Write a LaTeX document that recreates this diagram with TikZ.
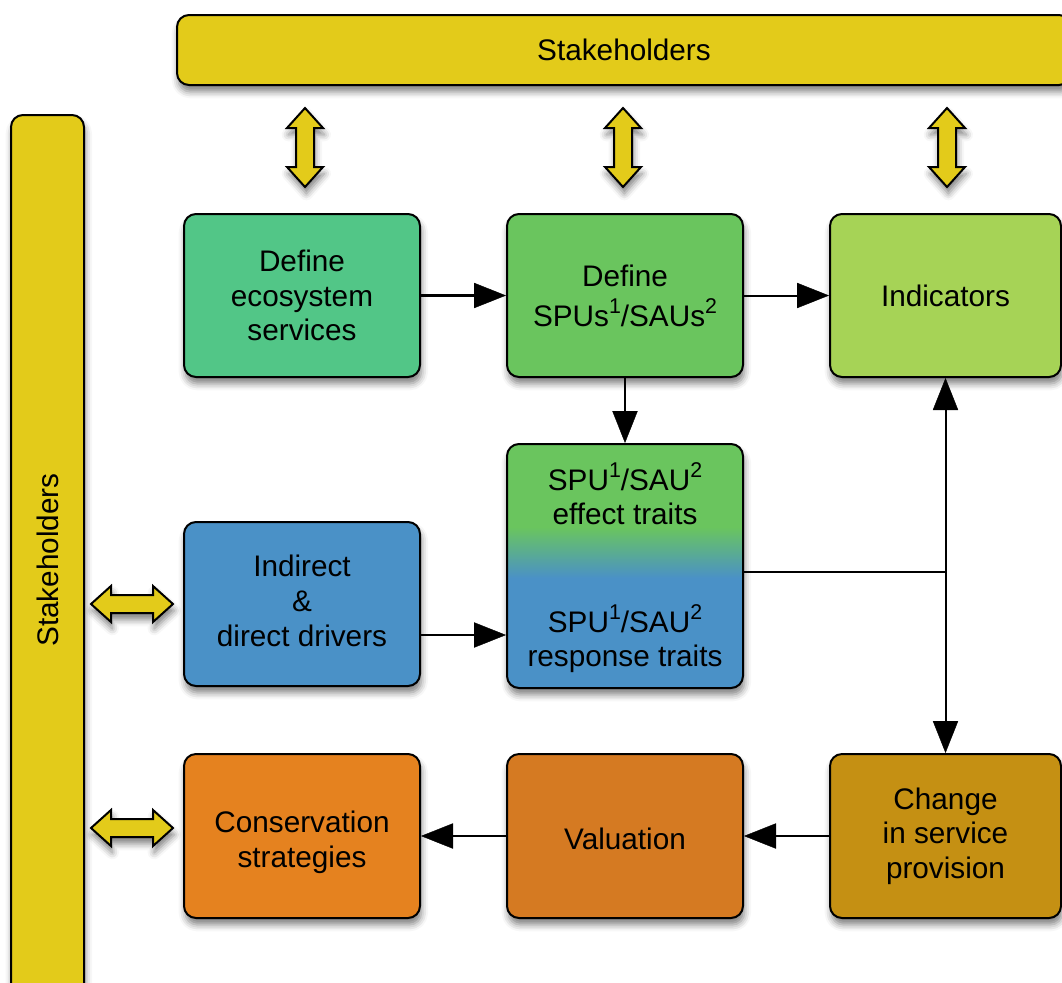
\documentclass[tikz,border=0pt]{standalone}
\usepackage{fontspec}
\setmainfont{Liberation Sans}
\usetikzlibrary{arrows.meta,shadows.blur}
\definecolor{yel}{HTML}{E3CB1A}
\definecolor{cteal}{HTML}{52C687}
\definecolor{cgreen}{HTML}{6AC55E}
\definecolor{clime}{HTML}{A6D356}
\definecolor{cblue}{HTML}{4A91C7}
\definecolor{corange}{HTML}{E5821F}
\definecolor{cdkorange}{HTML}{D57A22}
\definecolor{cochre}{HTML}{C59013}
\newcommand\mysup[1]{\raisebox{0.42em}{\fontsize{16}{16}\selectfont #1}}
\pgfdeclareverticalshading{traitshade}{100bp}{color(0bp)=(cblue); color(47.5bp)=(cblue); color(58bp)=(cgreen); color(100bp)=(cgreen)}
\begin{document}
\begin{tikzpicture}[x=0.75pt,y=-0.75pt,
  shad/.style={blur shadow={shadow xshift=1pt, shadow yshift=-5pt, shadow blur radius=5pt, shadow opacity=50}},
  txt/.style={align=center, font=\fontsize{22.3}{26}\selectfont, inner sep=0pt},
  box/.style={txt, shad, draw=black, line width=1.5pt, rounded corners=9pt, minimum width=177pt, minimum height=122.25pt},
  wbox/.style={box, minimum width=173.25pt},
  bar/.style={txt, shad, draw=black, line width=1.5pt, rounded corners=9pt, fill=yel},
  yarrow/.style={shad, draw=black, line width=1.5pt, fill=yel, line join=miter},
  arr/.style={-{Triangle[length=24pt,width=19pt,fill=black,line width=0.3pt]}, line width=1.5pt, black},
  darr/.style={{Triangle[length=24pt,width=19pt,fill=black,line width=0.3pt]}-{Triangle[length=24pt,width=19pt,fill=black,line width=0.3pt]}, line width=1.5pt, black}]
\useasboundingbox (0,0) rectangle (1062,982);
% stakeholder bars
\node[bar, minimum width=670.5pt, minimum height=52.5pt] (topbar) at (624,50) {Stakeholders};
\node[bar, rotate=90, minimum width=667.5pt, minimum height=54.75pt] (leftbar) at (47.5,560) {Stakeholders};
% double arrows (vertical)
\foreach \xx in {305,623,947}{
  \draw[yarrow] (\xx,108) -- ++(18,20) -- ++(-9,0) -- ++(0,39) -- ++(9,0) -- ++(-18,20) -- ++(-18,-20) -- ++(9,0) -- ++(0,-39) -- ++(-9,0) -- cycle;
}
% double arrows (horizontal)
\foreach \yy in {604,828}{
  \draw[yarrow] (91,\yy) -- ++(20,-18) -- ++(0,9) -- ++(42,0) -- ++(0,-9) -- ++(20,18) -- ++(-20,18) -- ++(0,-9) -- ++(-42,0) -- ++(0,9) -- cycle;
}
% boxes
\node[box, fill=cteal] (es) at (302,295.5) {Define\\ecosystem\\services};
\node[box, fill=cgreen] (spu) at (625,295.5) {Define\\[4pt]SPUs\mysup{1}/SAUs\mysup{2}};
\node[wbox, fill=clime] (ind) at (945.5,295.5) {Indicators};
\node[box, shade, shading=traitshade, minimum height=183pt] (traits) at (625,566) {};
\node[txt] (eff) at (625,494) {SPU\mysup{1}/SAU\mysup{2}\\effect traits};
\node[txt] (resp) at (625,639) {SPU\mysup{1}/SAU\mysup{2}\\response traits};
\node[box, fill=cblue, minimum height=123pt, label={[txt,yshift=2.25pt]center:{Indirect\\\&\\direct drivers}}] (drv) at (302,604) {};
\node[box, fill=corange, minimum height=123pt, label={[txt,yshift=-4.5pt]center:{Conservation\\strategies}}] (cons) at (302,836) {};
\node[box, fill=cdkorange, minimum height=123pt, label={[txt,yshift=-2pt]center:Valuation}] (val) at (625,836) {};
\node[wbox, fill=cochre, minimum height=123pt] (chg) at (945.5,836) {Change\\in service\\provision};
% connectors
\draw[arr, line width=2.6pt] (es) -- (spu);
\draw[arr] (spu) -- (ind);
\draw[arr] (spu) -- (traits);
\draw[arr] ([yshift=-23.25pt]drv.east) -- ([yshift=-23.25pt]drv.east -| traits.west);
\draw[darr] (ind.south) -- (chg.north);
\draw[line width=1.5pt] ([yshift=-4.5pt]traits.east) -- ([yshift=-4.5pt]traits.east -| ind.south);
\draw[arr] (chg) -- (val);
\draw[arr] (val) -- (cons);
\end{tikzpicture}
\end{document}
